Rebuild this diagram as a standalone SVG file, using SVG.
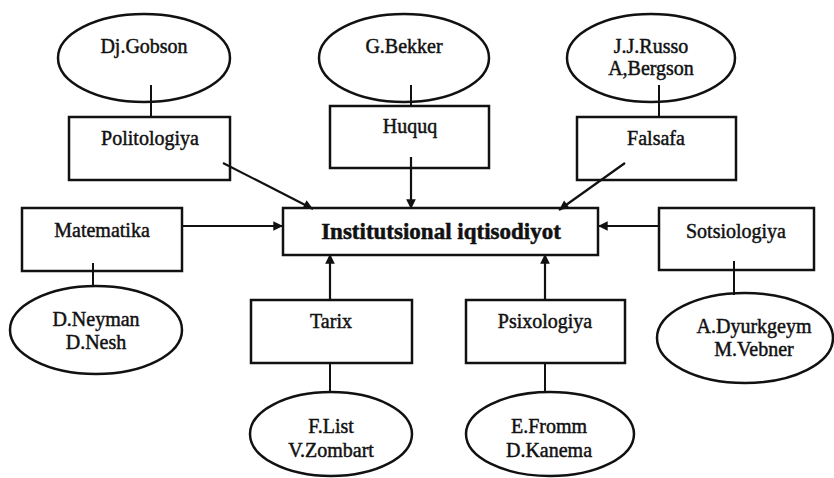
<svg xmlns="http://www.w3.org/2000/svg" width="834" height="478" viewBox="0 0 834 478">
<style>
.box{fill:#fff;stroke:#111;stroke-width:2.5}
.ell{fill:#fff;stroke:#111;stroke-width:2.5}
.ln{stroke:#111;stroke-width:2;fill:none}
.ar{stroke:#111;stroke-width:2.2;fill:none;marker-end:url(#ah)}
text{font-family:"Liberation Serif","Times New Roman",serif;font-size:20px;fill:#111;stroke:#111;stroke-width:0.45;text-anchor:middle}
.main{font-size:23px;font-weight:bold;stroke-width:0.5}
</style>
<defs>
<marker id="ah" viewBox="0 0 10 10" refX="10" refY="5" markerWidth="5" markerHeight="4.4" orient="auto" markerUnits="strokeWidth">
<path d="M0,0 L10,5 L0,10 z" fill="#111" stroke="none"/>
</marker>
</defs>
<rect width="834" height="478" fill="#fff"/>
<g id="center">
<rect class="box" x="283" y="208" width="315" height="47"/>
<text class="main" x="441" y="239">Institutsional iqtisodiyot</text>
</g>
<g id="gobson">
<ellipse class="ell" cx="144" cy="58" rx="86" ry="44"/>
<text x="144" y="53">Dj.Gobson</text>
</g>
<g id="bekker">
<ellipse class="ell" cx="404" cy="58" rx="85" ry="44"/>
<text x="404" y="53">G.Bekker</text>
</g>
<g id="russo">
<ellipse class="ell" cx="651" cy="58" rx="84" ry="44"/>
<text x="651" y="53">J.J.Russo</text>
<text x="651" y="75">A,Bergson</text>
</g>
<g id="politologiya">
<rect class="box" x="69" y="117" width="161" height="63"/>
<text x="150" y="145">Politologiya</text>
</g>
<g id="huquq">
<rect class="box" x="330" y="106" width="159" height="62"/>
<text x="410" y="133">Huquq</text>
</g>
<g id="falsafa">
<rect class="box" x="577" y="117" width="159" height="63"/>
<text x="656" y="145">Falsafa</text>
</g>
<g id="matematika">
<rect class="box" x="22" y="208" width="160" height="63"/>
<text x="102" y="237">Matematika</text>
</g>
<g id="sotsiologiya">
<rect class="box" x="659" y="208" width="155" height="62"/>
<text x="736" y="238">Sotsiologiya</text>
</g>
<g id="neyman">
<ellipse class="ell" cx="96" cy="330" rx="86" ry="44"/>
<text x="96" y="326">D.Neyman</text>
<text x="96" y="349">D.Nesh</text>
</g>
<g id="tarix">
<rect class="box" x="251" y="300" width="161" height="63"/>
<text x="331" y="328">Tarix</text>
</g>
<g id="psixologiya">
<rect class="box" x="466" y="300" width="159" height="63"/>
<text x="545" y="328">Psixologiya</text>
</g>
<g id="list">
<ellipse class="ell" cx="331" cy="434" rx="81" ry="42"/>
<text x="331" y="433">F.List</text>
<text x="331" y="457">V.Zombart</text>
</g>
<g id="fromm">
<ellipse class="ell" cx="550" cy="434" rx="84" ry="42"/>
<text x="549" y="433">E.Fromm</text>
<text x="549" y="457">D.Kanema</text>
</g>
<g id="dyurkgeym">
<ellipse class="ell" cx="745" cy="338" rx="88" ry="45"/>
<text x="754" y="333">A.Dyurkgeym</text>
<text x="754" y="356">M.Vebner</text>
</g>
<g id="connectors">
<line class="ln" x1="151" y1="85" x2="151" y2="117"/>
<line class="ln" x1="411" y1="85" x2="411" y2="106"/>
<line class="ln" x1="659" y1="85" x2="659" y2="117"/>
<line class="ln" x1="93" y1="263" x2="93" y2="286"/>
<line class="ln" x1="734" y1="261" x2="734" y2="295"/>
<line class="ln" x1="330" y1="363" x2="330" y2="393"/>
<line class="ln" x1="545" y1="363" x2="545" y2="393"/>
<line class="ar" x1="223" y1="163" x2="313" y2="209"/>
<line class="ar" x1="411" y1="157" x2="411" y2="209"/>
<line class="ar" x1="625" y1="163" x2="559" y2="210"/>
<line class="ar" x1="182" y1="226" x2="283" y2="226"/>
<line class="ar" x1="659" y1="226" x2="598" y2="226"/>
<line class="ar" x1="330" y1="300" x2="330" y2="254"/>
<line class="ar" x1="545" y1="300" x2="545" y2="254"/>
</g>
</svg>
